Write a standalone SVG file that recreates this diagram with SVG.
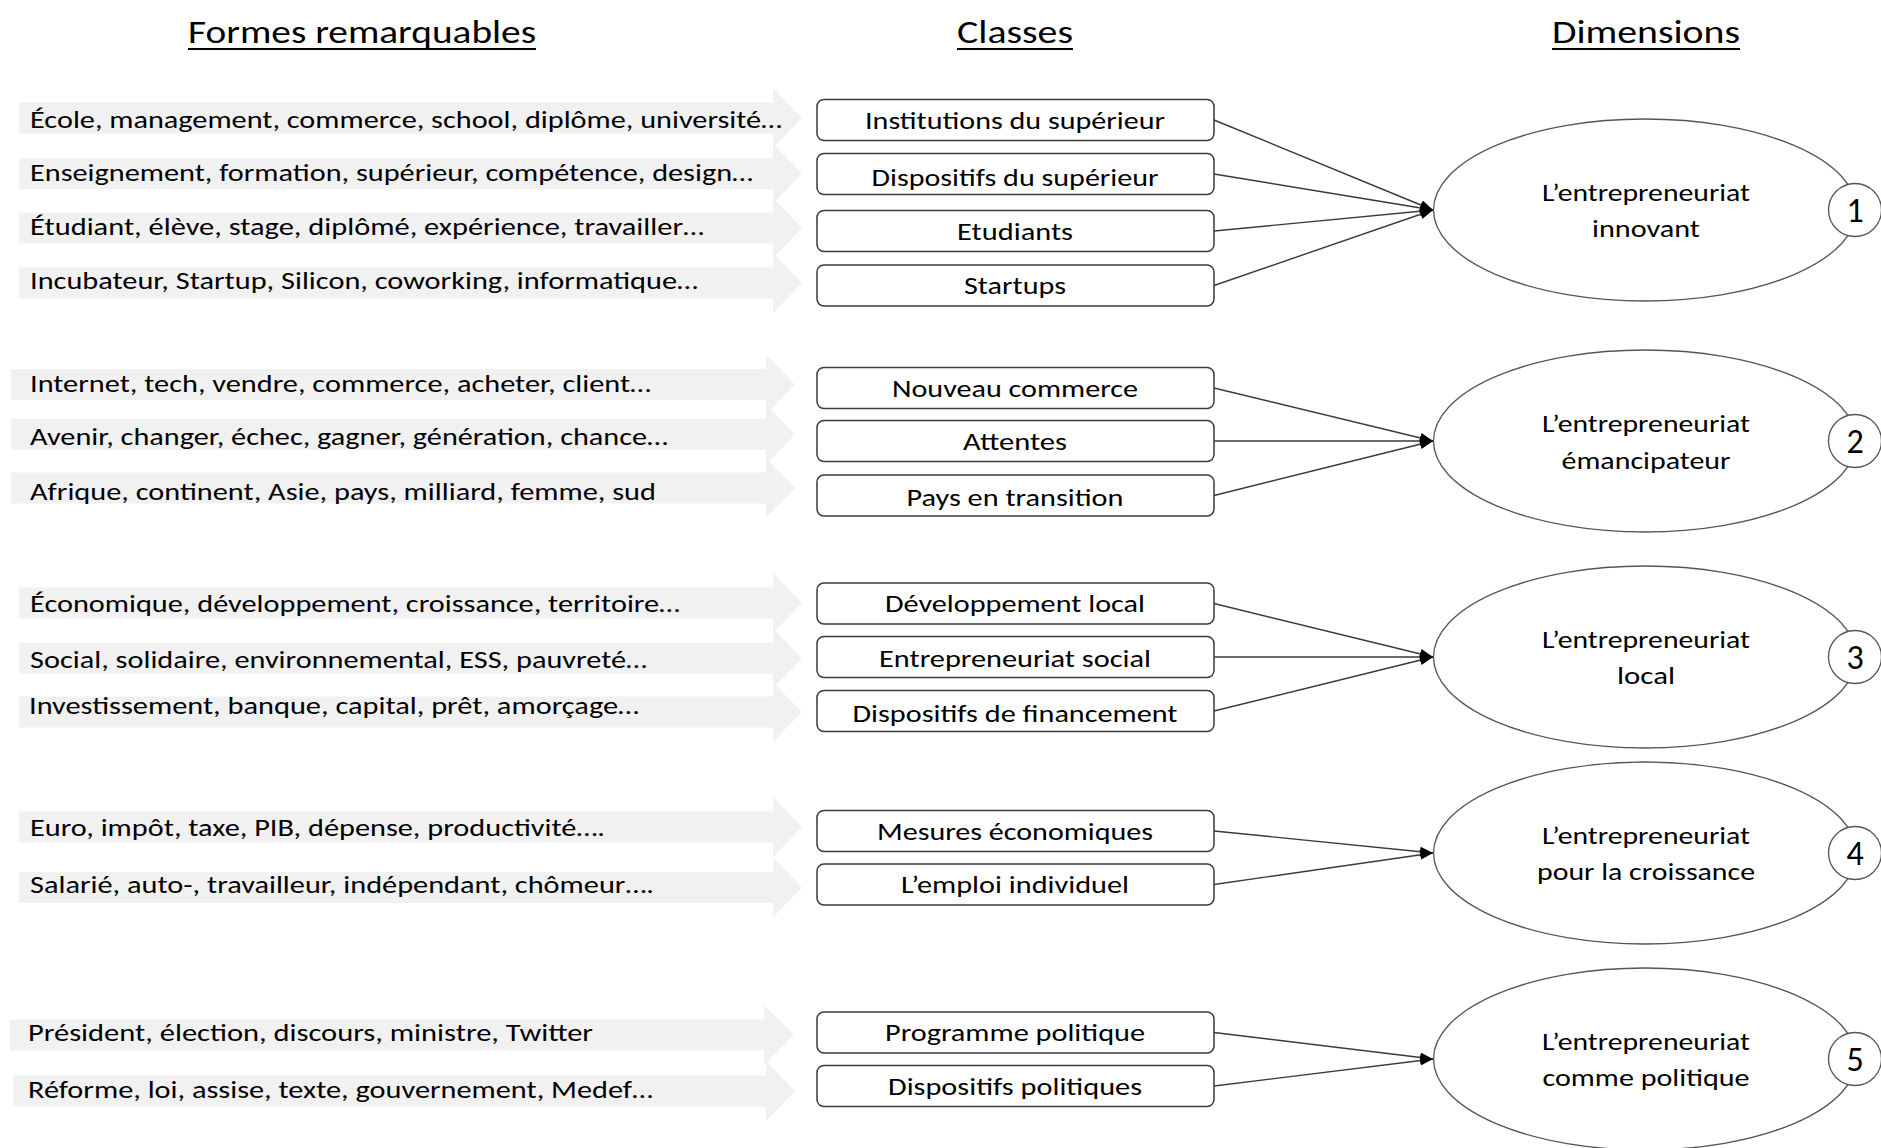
<svg xmlns="http://www.w3.org/2000/svg" width="1881" height="1148" viewBox="0 0 1881 1148">
<defs>
<style>
text{font-family:Carlito,Lato,"Open Sans",sans-serif;fill:#000}
.hdr{font-size:32px;text-anchor:middle}
.ul{stroke:#000;stroke-width:2}
.band{fill:#f1f1f1}
.kw{font-size:23.5px}
.cls rect{fill:#fff;stroke:#3a3a3a;stroke-width:1.5}
.cls text{font-size:24.5px;text-anchor:middle}
.dim ellipse{fill:#fff;stroke:#555;stroke-width:1.3}
.dim text{font-size:24.5px;text-anchor:middle}
.dim circle{fill:#fff;stroke:#555;stroke-width:1.3}
.dim .num{font-size:34px}
.conn line{stroke:#3a3a3a;stroke-width:1.4;marker-end:url(#ah)}
</style>
<marker id="ah" viewBox="0 0 13 10" refX="13" refY="5" markerWidth="13" markerHeight="10" orient="auto" markerUnits="userSpaceOnUse">
<path d="M0,0 L13,5 L0,10 Z" fill="#000"/>
</marker>
</defs>
<rect width="1881" height="1148" fill="#fff"/>

<g id="headers">
<text class="hdr" x="362" y="43" textLength="348" lengthAdjust="spacingAndGlyphs">Formes remarquables</text>
<line class="ul" x1="188" y1="49" x2="536" y2="49"/>
<text class="hdr" x="1015" y="43" textLength="116" lengthAdjust="spacingAndGlyphs">Classes</text>
<line class="ul" x1="957" y1="49" x2="1073" y2="49"/>
<text class="hdr" x="1646" y="43" textLength="188" lengthAdjust="spacingAndGlyphs">Dimensions</text>
<line class="ul" x1="1552" y1="49" x2="1740" y2="49"/>
</g>

<g id="formes">
<g id="f1"><path class="band" d="M19,102.5 H773 V88 L802,118 L773,148 V133.5 H19 Z"/><text class="kw" x="30" y="128" textLength="752" lengthAdjust="spacingAndGlyphs">École, management, commerce, school, diplôme, université…</text></g>
<g id="f2"><path class="band" d="M19,158 H773 V143.5 L802,173.5 L773,203.5 V189 H19 Z"/><text class="kw" x="30" y="181" textLength="723" lengthAdjust="spacingAndGlyphs">Enseignement, formation, supérieur, compétence, design…</text></g>
<g id="f3"><path class="band" d="M19,212.5 H773 V198 L802,228 L773,258 V243.5 H19 Z"/><text class="kw" x="30" y="235" textLength="674" lengthAdjust="spacingAndGlyphs">Étudiant, élève, stage, diplômé, expérience, travailler…</text></g>
<g id="f4"><path class="band" d="M19,267.5 H773 V253 L802,283 L773,313 V298.5 H19 Z"/><text class="kw" x="30" y="289" textLength="668" lengthAdjust="spacingAndGlyphs">Incubateur, Startup, Silicon, coworking, informatique…</text></g>

<g id="f5"><path class="band" d="M11,369 H766 V354.5 L795,384.5 L766,414.5 V400 H11 Z"/><text class="kw" x="30" y="392" textLength="621" lengthAdjust="spacingAndGlyphs">Internet, tech, vendre, commerce, acheter, client…</text></g>
<g id="f6"><path class="band" d="M11,419 H766 V404.5 L795,434.5 L766,464.5 V450 H11 Z"/><text class="kw" x="30" y="445" textLength="638" lengthAdjust="spacingAndGlyphs">Avenir, changer, échec, gagner, génération, chance…</text></g>
<g id="f7"><path class="band" d="M11,472.5 H766 V458 L795,488 L766,518 V503.5 H11 Z"/><text class="kw" x="30" y="500" textLength="626" lengthAdjust="spacingAndGlyphs">Afrique, continent, Asie, pays, milliard, femme, sud</text></g>

<g id="f8"><path class="band" d="M19,587.5 H773 V573 L802,603 L773,633 V618.5 H19 Z"/><text class="kw" x="30" y="612" textLength="650" lengthAdjust="spacingAndGlyphs">Économique, développement, croissance, territoire…</text></g>
<g id="f9"><path class="band" d="M19,643 H773 V628.5 L802,658.5 L773,688.5 V674 H19 Z"/><text class="kw" x="30" y="668" textLength="617" lengthAdjust="spacingAndGlyphs">Social, solidaire, environnemental, ESS, pauvreté…</text></g>
<g id="f10"><path class="band" d="M19,696.5 H773 V682 L802,712 L773,742 V727.5 H19 Z"/><text class="kw" x="29" y="714" textLength="610" lengthAdjust="spacingAndGlyphs">Investissement, banque, capital, prêt, amorçage…</text></g>

<g id="f11"><path class="band" d="M19,811.5 H773 V797 L802,827 L773,857 V842.5 H19 Z"/><text class="kw" x="30" y="836" textLength="575" lengthAdjust="spacingAndGlyphs">Euro, impôt, taxe, PIB, dépense, productivité….</text></g>
<g id="f12"><path class="band" d="M19,872 H773 V857.5 L802,887.5 L773,917.5 V903 H19 Z"/><text class="kw" x="30" y="893" textLength="624" lengthAdjust="spacingAndGlyphs">Salarié, auto-, travailleur, indépendant, chômeur….</text></g>

<g id="f13"><path class="band" d="M10,1019.5 H764 V1005 L794,1035 L764,1065 V1050.5 H10 Z"/><text class="kw" x="28" y="1041" textLength="565" lengthAdjust="spacingAndGlyphs">Président, élection, discours, ministre, Twitter</text></g>
<g id="f14"><path class="band" d="M13,1075.5 H766 V1061 L795,1091 L766,1121 V1106.5 H13 Z"/><text class="kw" x="28" y="1098" textLength="625" lengthAdjust="spacingAndGlyphs">Réforme, loi, assise, texte, gouvernement, Medef…</text></g>
</g>

<g id="classes" class="cls">
<g id="c1"><rect x="817" y="99.5" width="397" height="41" rx="7"/><text x="1015" y="129" textLength="300" lengthAdjust="spacingAndGlyphs">Institutions du supérieur</text></g>
<g id="c2"><rect x="817" y="153.5" width="397" height="41" rx="7"/><text x="1015" y="186" textLength="287" lengthAdjust="spacingAndGlyphs">Dispositifs du supérieur</text></g>
<g id="c3"><rect x="817" y="210.5" width="397" height="41" rx="7"/><text x="1015" y="240" textLength="116" lengthAdjust="spacingAndGlyphs">Etudiants</text></g>
<g id="c4"><rect x="817" y="265" width="397" height="41" rx="7"/><text x="1015" y="294" textLength="102" lengthAdjust="spacingAndGlyphs">Startups</text></g>
<g id="c5"><rect x="817" y="367.5" width="397" height="41" rx="7"/><text x="1015" y="397" textLength="246" lengthAdjust="spacingAndGlyphs">Nouveau commerce</text></g>
<g id="c6"><rect x="817" y="420.5" width="397" height="41" rx="7"/><text x="1015" y="450" textLength="104" lengthAdjust="spacingAndGlyphs">Attentes</text></g>
<g id="c7"><rect x="817" y="475" width="397" height="41" rx="7"/><text x="1015" y="506" textLength="217" lengthAdjust="spacingAndGlyphs">Pays en transition</text></g>
<g id="c8"><rect x="817" y="583" width="397" height="41" rx="7"/><text x="1015" y="612" textLength="260" lengthAdjust="spacingAndGlyphs">Développement  local</text></g>
<g id="c9"><rect x="817" y="636.5" width="397" height="41" rx="7"/><text x="1015" y="667" textLength="272" lengthAdjust="spacingAndGlyphs">Entrepreneuriat social</text></g>
<g id="c10"><rect x="817" y="690.5" width="397" height="41" rx="7"/><text x="1015" y="722" textLength="325" lengthAdjust="spacingAndGlyphs">Dispositifs de financement</text></g>
<g id="c11"><rect x="817" y="810.5" width="397" height="41" rx="7"/><text x="1015" y="840" textLength="276" lengthAdjust="spacingAndGlyphs">Mesures économiques</text></g>
<g id="c12"><rect x="817" y="864" width="397" height="41" rx="7"/><text x="1015" y="893" textLength="228" lengthAdjust="spacingAndGlyphs">L’emploi individuel</text></g>
<g id="c13"><rect x="817" y="1012" width="397" height="41" rx="7"/><text x="1015" y="1041" textLength="260" lengthAdjust="spacingAndGlyphs">Programme politique</text></g>
<g id="c14"><rect x="817" y="1065.5" width="397" height="41" rx="7"/><text x="1015" y="1095" textLength="254" lengthAdjust="spacingAndGlyphs">Dispositifs politiques</text></g>
</g>

<g id="dimensions" class="dim">
<g id="d1"><ellipse cx="1645" cy="210" rx="211.5" ry="91"/><text x="1646" y="201" textLength="208" lengthAdjust="spacingAndGlyphs">L’entrepreneuriat</text><text x="1646" y="237" textLength="108" lengthAdjust="spacingAndGlyphs">innovant</text><circle cx="1855" cy="210" r="26.5"/><text class="num" x="1855" y="222">1</text></g>
<g id="d2"><ellipse cx="1645" cy="441" rx="211.5" ry="91"/><text x="1646" y="432" textLength="208" lengthAdjust="spacingAndGlyphs">L’entrepreneuriat</text><text x="1646" y="469" textLength="169" lengthAdjust="spacingAndGlyphs">émancipateur</text><circle cx="1855" cy="441" r="26.5"/><text class="num" x="1855" y="453">2</text></g>
<g id="d3"><ellipse cx="1645" cy="657" rx="211.5" ry="91"/><text x="1646" y="648" textLength="208" lengthAdjust="spacingAndGlyphs">L’entrepreneuriat</text><text x="1646" y="684" textLength="58" lengthAdjust="spacingAndGlyphs">local</text><circle cx="1855" cy="657" r="26.5"/><text class="num" x="1855" y="669">3</text></g>
<g id="d4"><ellipse cx="1645" cy="853" rx="211.5" ry="91"/><text x="1646" y="844" textLength="208" lengthAdjust="spacingAndGlyphs">L’entrepreneuriat</text><text x="1646" y="880" textLength="218" lengthAdjust="spacingAndGlyphs">pour la croissance</text><circle cx="1855" cy="853" r="26.5"/><text class="num" x="1855" y="865">4</text></g>
<g id="d5"><ellipse cx="1645" cy="1059" rx="211.5" ry="91"/><text x="1646" y="1050" textLength="208" lengthAdjust="spacingAndGlyphs">L’entrepreneuriat</text><text x="1646" y="1086" textLength="207" lengthAdjust="spacingAndGlyphs">comme politique</text><circle cx="1855" cy="1059" r="26.5"/><text class="num" x="1855" y="1071">5</text></g>
</g>

<g id="connectors" class="conn">
<line x1="1214" y1="120" x2="1433" y2="210"/>
<line x1="1214" y1="174" x2="1433" y2="210"/>
<line x1="1214" y1="231" x2="1433" y2="210"/>
<line x1="1214" y1="285.5" x2="1433" y2="210"/>
<line x1="1214" y1="388" x2="1433" y2="441"/>
<line x1="1214" y1="441" x2="1433" y2="441"/>
<line x1="1214" y1="495.5" x2="1433" y2="441"/>
<line x1="1214" y1="603.5" x2="1433" y2="657"/>
<line x1="1214" y1="657" x2="1433" y2="657"/>
<line x1="1214" y1="711" x2="1433" y2="657"/>
<line x1="1214" y1="831" x2="1433" y2="853"/>
<line x1="1214" y1="884.5" x2="1433" y2="853"/>
<line x1="1214" y1="1032.5" x2="1433" y2="1059"/>
<line x1="1214" y1="1086" x2="1433" y2="1059"/>
</g>
</svg>
